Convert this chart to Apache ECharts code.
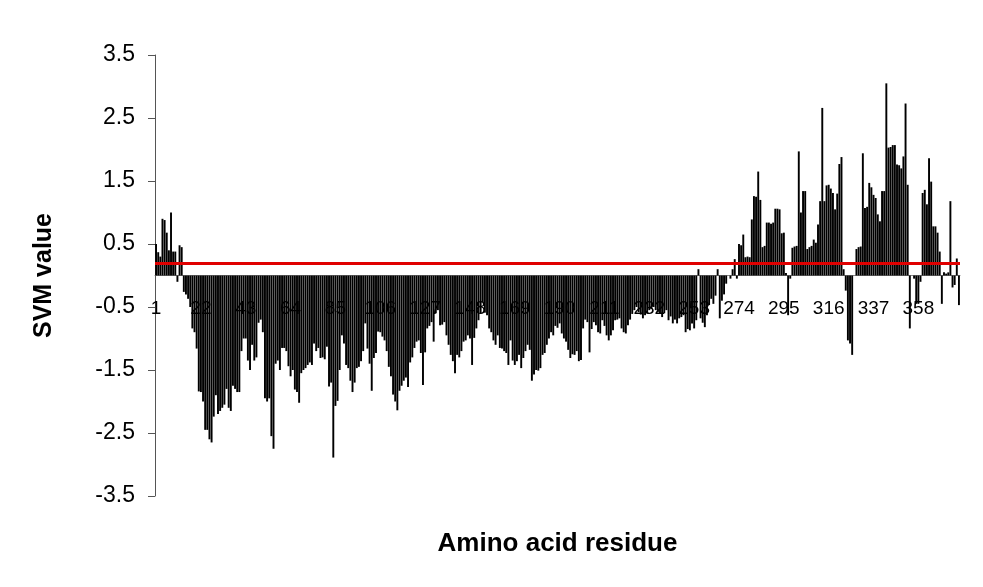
<!DOCTYPE html>
<html>
<head>
<meta charset="UTF-8">
<title>SVM value</title>
<script src="https://cdn.jsdelivr.net/npm/echarts@6/dist/echarts.min.js"></script>
</head>
<body style="margin:0;background:#fff;">
<div id="main" style="width:983px;height:587px;"></div>
<script type="text/javascript">
// SVM value per residue
var svmValues = [
  0.5, 0.37, 0.3, 0.9, 0.88, 0.68, 0.4, 1.0, 0.38, 0.38,
  -0.1, 0.48, 0.45, -0.26, -0.3, -0.37, -0.5, -0.84, -0.9, -1.16,
  -1.84, -1.85, -2.0, -2.45, -2.45, -2.6, -2.65, -2.24, -1.9, -2.2,
  -2.15, -2.1, -2.05, -1.8, -2.1, -2.15, -1.75, -1.8, -1.85, -1.85,
  -1.2, -1.0, -1.0, -1.35, -1.5, -1.1, -1.35, -1.3, -0.75, -0.7,
  -0.9, -1.95, -2.0, -1.95, -2.55, -2.75, -1.4, -1.35, -1.5, -1.15,
  -1.15, -1.2, -1.44, -1.6, -1.5, -1.81, -1.85, -2.02, -1.55, -1.5,
  -1.47, -1.42, -1.38, -1.42, -1.08, -1.2, -1.15, -1.31, -1.3, -1.33,
  -1.13, -1.76, -1.7, -2.89, -2.07, -1.99, -1.5, -0.95, -1.08, -1.42,
  -1.47, -1.67, -1.85, -1.7, -1.47, -1.45, -1.36, -1.2, -0.76, -1.16,
  -1.4, -1.83, -1.31, -1.23, -0.89, -0.9, -0.97, -1.03, -1.2, -1.45,
  -1.6, -1.89, -2.0, -2.14, -1.83, -1.75, -1.67, -1.62, -1.77, -1.38,
  -1.3, -1.15, -1.05, -1.03, -1.23, -1.74, -1.22, -0.84, -0.8, -0.74,
  -1.05, -0.6, -0.55, -0.79, -0.78, -0.74, -0.95, -1.1, -1.26, -1.36,
  -1.55, -1.26, -1.3, -1.2, -1.05, -1.03, -0.95, -1.0, -1.42, -0.99,
  -0.84, -0.71, -0.6, -0.42, -0.59, -0.63, -0.84, -0.9, -1.03, -1.1,
  -0.95, -1.15, -1.16, -1.2, -1.23, -1.42, -1.03, -1.35, -1.42, -1.36,
  -1.26, -1.47, -1.31, -1.2, -1.1, -1.18, -1.67, -1.57, -1.5, -1.51,
  -1.47, -1.26, -1.23, -1.1, -1.0, -0.9, -0.95, -0.8, -0.83, -0.76,
  -0.92, -1.0, -1.05, -1.18, -1.31, -1.25, -1.26, -1.2, -1.36, -1.34,
  -0.84, -0.7, -0.74, -1.22, -0.85, -0.74, -0.79, -0.9, -0.92, -0.71,
  -0.8, -0.95, -1.03, -0.95, -0.87, -0.71, -0.7, -0.68, -0.84, -0.9,
  -0.92, -0.79, -0.7, -0.61, -0.55, -0.5, -0.58, -0.62, -0.68, -0.63,
  -0.6, -0.55, -0.53, -0.5, -0.55, -0.58, -0.61, -0.66, -0.6, -0.55,
  -0.71, -0.65, -0.76, -0.7, -0.76, -0.68, -0.66, -0.63, -0.9, -0.85,
  -0.87, -0.76, -0.84, -0.71, 0.1, -0.68, -0.75, -0.82, -0.63, -0.47,
  -0.37, -0.45, -0.32, 0.1, -0.68, -0.4, -0.3, -0.13, 0, -0.05,
  0.1, 0.26, -0.05, 0.5, 0.48, 0.65, 0.29, 0.3, 0.29, 0.89,
  1.26, 1.25, 1.65, 1.2, 0.45, 0.47, 0.84, 0.84, 0.82, 0.84,
  1.06, 1.06, 1.05, 0.67, 0.68, 0.04, -0.63, -0.05, 0.44, 0.46,
  0.47, 1.97, 1.0, 1.34, 1.34, 0.42, 0.45, 0.47, 0.57, 0.52,
  0.81, 1.18, 2.66, 1.18, 1.43, 1.44, 1.38, 1.31, 1.05, 1.3,
  1.77, 1.88, 0.1, -0.24, -1.03, -1.08, -1.26, 0, 0.42, 0.45,
  0.46, 1.94, 1.07, 1.09, 1.47, 1.4, 1.28, 1.23, 0.97, 0.86,
  1.34, 1.34, 3.05, 2.03, 2.04, 2.07, 2.07, 1.76, 1.75, 1.7,
  1.89, 2.73, 1.44, -0.84, 0, -0.05, -0.45, -0.45, -0.1, 1.31,
  1.36, 1.13, 1.86, 1.49, 0.78, 0.78, 0.68, 0.38, -0.45, 0.05,
  0.03, 0.05, 1.18, -0.19, -0.15, 0.27, -0.47
];
var cutoff = 0.2;   // red threshold line
var yTicks = [-3.5, -2.5, -1.5, -0.5, 0.5, 1.5, 2.5, 3.5];

// residue numbers 1..n for the category axis
var residues = [];
for (var i = 0; i < svmValues.length; i++) {
    residues.push(String(i + 1));
}

var gridTop = 55, gridBottom = 91, chartH = 587;
var yMin = yTicks[0], yMax = yTicks[yTicks.length - 1];
// lift the category axis from the bottom edge up to y = 0
var zeroLift = (chartH - gridTop - gridBottom) * (0 - yMin) / (yMax - yMin);

var myChart = echarts.init(document.getElementById('main'));

var option = {
    backgroundColor: '#fff',
    animation: false,
    textStyle: { fontFamily: 'Liberation Sans, Arial, sans-serif' },
    grid: { left: 155, right: 23, top: gridTop, bottom: gridBottom, outerBoundsMode: 'none', containLabel: false },
    xAxis: {
        type: 'category',
        data: residues,
        position: 'bottom',
        offset: -zeroLift,
        name: 'Amino acid residue',
        nameLocation: 'middle',
        nameGap: 255,
        nameTextStyle: { fontSize: 26, fontWeight: 'bold', color: '#000' },
        axisLine: { onZero: false, lineStyle: { color: '#888', width: 1 } },
        axisTick: { interval: 0, length: 5, lineStyle: { color: '#888' } },
        axisLabel: { interval: 20, margin: 24, fontSize: 19, color: '#000' },
        splitLine: { show: false }
    },
    yAxis: {
        type: 'value',
        min: yMin,
        max: yMax,
        interval: 1,
        name: 'SVM value',
        nameLocation: 'middle',
        nameRotate: 90,
        nameGap: 98,
        nameTextStyle: { fontSize: 25, fontWeight: 'bold', color: '#000' },
        axisLine: { show: true, lineStyle: { color: '#555', width: 1 } },
        axisTick: { show: true, length: 7, lineStyle: { color: '#555' } },
        axisLabel: {
            fontSize: 23, margin: 20, color: '#000',
            formatter: function (v) { return v.toFixed(1); }
        },
        splitLine: { show: false }
    },
    series: [{
        name: 'SVM value',
        type: 'bar',
        data: svmValues,
        barCategoryGap: '10%',
        itemStyle: { color: '#000' },
        markLine: {
            silent: true,
            symbol: 'none',
            label: { show: false },
            lineStyle: { color: '#e00000', width: 3, type: 'solid' },
            data: [{ yAxis: cutoff }]
        }
    }]
};

myChart.setOption(option);
</script>
</body>
</html>
